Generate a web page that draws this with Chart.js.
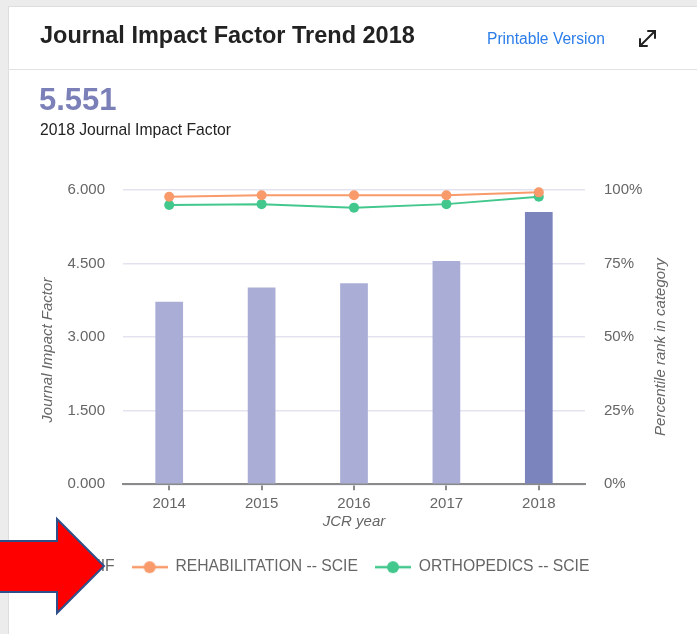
<!DOCTYPE html>
<html>
<head>
<meta charset="utf-8">
<script src="https://cdn.jsdelivr.net/npm/chart.js@4/dist/chart.umd.min.js"></script>
<style>
  html, body { margin:0; padding:0; }
  body { width:697px; height:634px; background:#ececec; position:relative; overflow:hidden; font-family:"Liberation Sans", Arial, sans-serif; }
  #card { position:absolute; left:8px; top:6px; width:700px; height:640px; background:#fff; border:1px solid #dedede; }
  #divider { position:absolute; left:8px; top:69px; width:700px; height:1px; background:#e2e2e2; }
  .txt { position:absolute; white-space:nowrap; z-index:3; }
  #title { left:40px; top:21px; font-size:23.5px; font-weight:bold; color:#222; line-height:28px; }
  #print { left:487px; top:30px; font-size:15.6px; color:#2b7de9; line-height:18px; }
  #jif { left:39px; top:82px; font-size:31px; font-weight:bold; color:#7c80b8; line-height:36px; }
  #jiflabel { left:40px; top:121px; font-size:15.7px; color:#222; line-height:18px; }
  #chartwrap { position:absolute; left:0; top:0; width:697px; height:634px; z-index:2; }
  svg.ov { position:absolute; left:0; top:0; z-index:4; }
</style>
</head>
<body>
<div id="card"></div>
<div id="divider"></div>
<div class="txt" id="title">Journal Impact Factor Trend 2018</div>
<div class="txt" id="print">Printable Version</div>
<div class="txt" id="jif">5.551</div>
<div class="txt" id="jiflabel">2018 Journal Impact Factor</div>
<div id="chartwrap"><canvas id="c" width="697" height="634"></canvas></div>
<svg class="ov" width="697" height="634" viewBox="0 0 697 634">
  <g stroke="#222" stroke-width="2" fill="none" stroke-linecap="round">
    <line x1="640" y1="46" x2="655" y2="31"/>
    <polyline points="640,39 640,46 647,46"/>
    <polyline points="648,31 655,31 655,38"/>
  </g>
  <polygon points="-3,541 57,541 57,519 104,566 57,613 57,592 -3,592" fill="#ff0000" stroke="#2f4f8a" stroke-width="2" stroke-linejoin="miter"/>
</svg>
<script>
// ---- data ----
const years = ['2014', '2015', '2016', '2017', '2018'];
const jifValues = [3.72, 4.01, 4.10, 4.55, 5.551];
const rehabPercentile = [97.7, 98.2, 98.2, 98.2, 99.2];
const orthoPercentile = [94.9, 95.2, 94.0, 95.2, 97.7];
const jifTicks = [0, 1.5, 3, 4.5, 6];
const pctTicks = [0, 25, 50, 75, 100];
const seriesNames = ['JIF', 'REHABILITATION -- SCIE', 'ORTHOPEDICS -- SCIE'];
const axisTitles = { x: 'JCR year', y: 'Journal Impact Factor', y1: 'Percentile rank in category' };

// ---- styles ----
const barLight = '#aaaed6';
const barDark = '#7c84bd';
const orange = '#f89a6a';
const green = '#42c78d';
const gridColor = '#e3e3ef';
const axisColor = '#8a8a8a';
const textColor = '#666';
const FONT = '"Liberation Sans", Arial, sans-serif';

const LPAD = 32, RPAD = 0;
const PLOT_LEFT = 123, PLOT_RIGHT = 585;

function legendIcon(color, kind) {
  const cv = document.createElement('canvas');
  cv.width = 36; cv.height = 14;
  const g = cv.getContext('2d');
  if (kind === 'bar') {
    g.fillStyle = color; g.fillRect(8, 1, 20, 12);
  } else {
    g.strokeStyle = color; g.lineWidth = 2.5;
    g.beginPath(); g.moveTo(0, 7); g.lineTo(36, 7); g.stroke();
    g.fillStyle = color; g.beginPath(); g.arc(18, 7, 6, 0, Math.PI * 2); g.fill();
  }
  return cv;
}
const icons = [legendIcon(barLight, 'bar'), legendIcon(orange, 'line'), legendIcon(green, 'line')];

const axisTitlePlugin = {
  id: 'axisTitles',
  afterDraw(chart) {
    const ctx = chart.ctx, a = chart.chartArea;
    const cy = (a.top + a.bottom) / 2;
    ctx.save();
    ctx.fillStyle = textColor;
    ctx.font = 'italic 15px ' + FONT;
    ctx.textAlign = 'center';
    ctx.textBaseline = 'middle';
    ctx.translate(a.left - 75, cy + 13);
    ctx.rotate(-Math.PI / 2);
    ctx.fillText(axisTitles.y, 0, 0);
    ctx.restore();
    ctx.save();
    ctx.fillStyle = textColor;
    ctx.font = 'italic 15px ' + FONT;
    ctx.textAlign = 'center';
    ctx.textBaseline = 'middle';
    ctx.translate(a.right + 76, cy + 10);
    ctx.rotate(-Math.PI / 2);
    ctx.fillText(axisTitles.y1, 0, 0);
    ctx.restore();
  }
};

new Chart(document.getElementById('c'), {
  type: 'bar',
  data: {
    labels: years,
    datasets: [
      {
        label: seriesNames[0], data: jifValues, yAxisID: 'y', order: 2,
        backgroundColor: jifValues.map((v, i) => i === jifValues.length - 1 ? barDark : barLight),
        barPercentage: 0.3, categoryPercentage: 1.0
      },
      {
        type: 'line', label: seriesNames[1], data: rehabPercentile, yAxisID: 'y1', order: 0, clip: false,
        borderColor: orange, backgroundColor: orange, borderWidth: 2,
        pointRadius: 5, pointBackgroundColor: orange, pointBorderWidth: 0, tension: 0
      },
      {
        type: 'line', label: seriesNames[2], data: orthoPercentile, yAxisID: 'y1', order: 1, clip: false,
        borderColor: green, backgroundColor: green, borderWidth: 2,
        pointRadius: 5, pointBackgroundColor: green, pointBorderWidth: 0, tension: 0
      }
    ]
  },
  options: {
    responsive: false,
    animation: false,
    layout: { padding: { top: 190, left: LPAD, right: RPAD, bottom: 49 } },
    plugins: {
      tooltip: { enabled: false },
      legend: {
        position: 'bottom',
        align: 'start',
        labels: {
          usePointStyle: true, pointStyleWidth: 36, padding: 17,
          color: textColor, font: { size: 15.7, family: FONT },
          sort: (a, b) => a.datasetIndex - b.datasetIndex,
          generateLabels(chart) {
            const items = Chart.defaults.plugins.legend.labels.generateLabels(chart);
            items.forEach(it => { it.pointStyle = icons[it.datasetIndex]; });
            return items;
          }
        }
      }
    },
    scales: {
      x: {
        offset: true,
        grid: { display: true, drawOnChartArea: false, drawTicks: true, tickLength: 6, color: axisColor, lineWidth: 2, offset: false },
        border: { color: axisColor, width: 2 },
        ticks: { color: textColor, font: { size: 15, family: FONT }, padding: 5 },
        title: { display: true, text: axisTitles.x, color: textColor, font: { size: 15, style: 'italic', family: FONT }, padding: { top: 0, bottom: 11 } },
        afterFit(s) { s.height = 58; }
      },
      y: {
        position: 'left', min: 0, max: 6,
        afterBuildTicks(s) { s.ticks = jifTicks.map(v => ({ value: v })); },
        grid: { color: gridColor, drawTicks: false, lineWidth: 1.5 },
        border: { display: false },
        ticks: { color: textColor, font: { size: 15, family: FONT }, padding: 18, callback: v => Number(v).toFixed(3) },
        afterFit(s) { s.width = PLOT_LEFT - LPAD; }
      },
      y1: {
        position: 'right', min: 0, max: 100,
        afterBuildTicks(s) { s.ticks = pctTicks.map(v => ({ value: v })); },
        grid: { drawOnChartArea: false, drawTicks: false },
        border: { display: false },
        ticks: { color: textColor, font: { size: 15, family: FONT }, padding: 19, callback: v => v + '%' },
        afterFit(s) { s.width = (697 - RPAD) - PLOT_RIGHT; }
      }
    }
  },
  plugins: [axisTitlePlugin]
});
</script>
</body>
</html>
